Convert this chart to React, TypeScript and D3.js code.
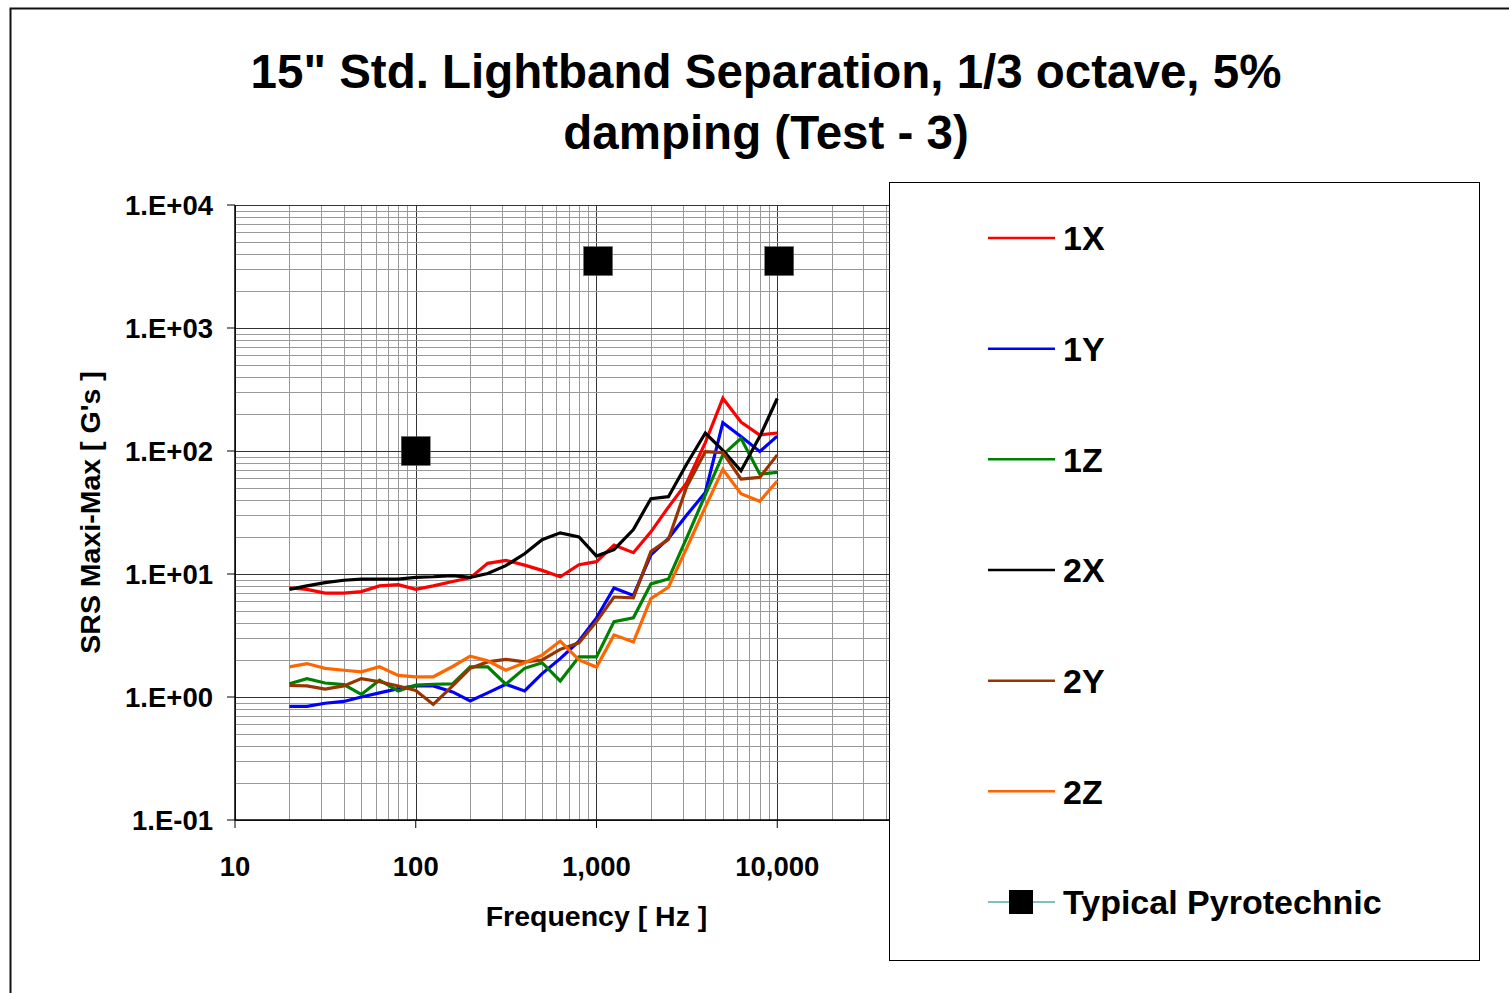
import { useEffect, useRef } from "react";
import * as d3 from "d3";

// 1/3 octave centre frequencies [Hz]
const freqs = [
  20, 25, 31.5, 40, 50, 63, 80, 100, 125, 160, 200, 250, 315, 400, 500, 630,
  800, 1000, 1250, 1600, 2000, 2500, 3150, 4000, 5000, 6300, 8000, 10000,
];

const s1X = [
  7.7, 7.5, 7.0, 7.0, 7.2, 8.0, 8.2, 7.5, 8.0, 8.7, 9.3, 12.2, 12.9, 11.8, 10.7,
  9.5, 11.9, 12.6, 17.2, 14.9, 22, 35, 55, 117, 268, 172, 135, 140,
];
const s1Y = [
  0.84, 0.84, 0.89, 0.92, 1.0, 1.08, 1.17, 1.23, 1.23, 1.1, 0.93, 1.08, 1.27,
  1.12, 1.55, 2.05, 2.85, 4.4, 7.7, 6.7, 14.3, 19.5, 30, 46, 170, 131, 99, 132,
];
const s1Z = [
  1.28, 1.41, 1.3, 1.26, 1.05, 1.37, 1.12, 1.25, 1.27, 1.28, 1.76, 1.76, 1.27,
  1.71, 1.9, 1.35, 2.12, 2.12, 4.1, 4.4, 8.3, 9.1, 19.6, 44, 93, 127, 65, 67,
];
const s2X = [
  7.5, 8.0, 8.5, 8.9, 9.1, 9.1, 9.1, 9.4, 9.5, 9.7, 9.4, 10.1, 11.7, 14.6, 19,
  21.6, 20, 14, 15.8, 23, 41, 42.5, 78, 140, 101, 69, 131, 267,
];
const s2Y = [
  1.24, 1.23, 1.16, 1.23, 1.41, 1.33, 1.23, 1.13, 0.87, 1.23, 1.71, 1.93, 2.02,
  1.93, 2.0, 2.44, 2.76, 4.1, 6.5, 6.4, 15.2, 19.1, 51, 99, 97, 59, 61, 93,
];
const s2Z = [
  1.76, 1.87, 1.71, 1.65, 1.6, 1.76, 1.5, 1.46, 1.46, 1.77, 2.15, 1.97, 1.65,
  1.9, 2.19, 2.85, 2.0, 1.75, 3.2, 2.8, 6.3, 7.8, 16.2, 35, 71, 45, 39, 57,
];

const seriesNames = ["1X", "1Y", "1Z", "2X", "2Y", "2Z"];
const seriesValues = [s1X, s1Y, s1Z, s2X, s2Y, s2Z];
const seriesColors = ["#ff0000", "#0000ff", "#008000", "#000000", "#993300", "#ff6600"];

const pyroName = "Typical Pyrotechnic";
const pyroFreqs = [100, 1020, 10250];
const pyroValues = [100, 3500, 3500];

const yTickLabels = ["1.E-01", "1.E+00", "1.E+01", "1.E+02", "1.E+03", "1.E+04"];
const xTickLabels = ["10", "100", "1,000", "10,000", "100,000"];

const FONT = "'Liberation Sans', Arial, Helvetica, sans-serif";

export default function App() {
  const ref = useRef<SVGSVGElement>(null);

  useEffect(() => {
    const svg = d3.select(ref.current);
    svg.selectAll("*").remove();

    const left = 235,
      right = 958,
      top = 205,
      bottom = 820;

    const x = d3.scaleLog().domain([10, 100000]).range([left, right]);
    const y = d3.scaleLog().domain([0.1, 10000]).range([bottom, top]);

    // outer chart border
    svg
      .append("rect")
      .attr("x", 10.5)
      .attr("y", 8.5)
      .attr("width", 1600)
      .attr("height", 1100)
      .attr("fill", "white")
      .attr("stroke", "#111")
      .attr("stroke-width", 2);

    // title
    const title = svg
      .append("text")
      .attr("text-anchor", "middle")
      .attr("font-family", FONT)
      .attr("font-weight", "bold")
      .attr("font-size", 47.5);
    title.append("tspan").attr("x", 766).attr("y", 88).text('15" Std. Lightband Separation, 1/3 octave, 5%');
    title.append("tspan").attr("x", 766).attr("y", 149).text("damping (Test - 3)");

    // grid
    const grid = svg.append("g");
    for (let d = 1; d < 5; d++) {
      for (let k = 1; k < 10; k++) {
        const v = k * Math.pow(10, d);
        grid
          .append("line")
          .attr("x1", Math.round(x(v)) + 0.5)
          .attr("x2", Math.round(x(v)) + 0.5)
          .attr("y1", top)
          .attr("y2", bottom)
          .attr("stroke", k === 1 ? "#333" : "#999")
          .attr("stroke-width", 1);
      }
    }
    for (let d = -1; d < 4; d++) {
      for (let k = 1; k < 10; k++) {
        const v = k * Math.pow(10, d);
        grid
          .append("line")
          .attr("x1", left)
          .attr("x2", right)
          .attr("y1", Math.round(y(v)) + 0.5)
          .attr("y2", Math.round(y(v)) + 0.5)
          .attr("stroke", k === 1 ? "#333" : "#999")
          .attr("stroke-width", 1);
      }
    }
    grid
      .append("line")
      .attr("x1", left)
      .attr("x2", right)
      .attr("y1", top + 0.5)
      .attr("y2", top + 0.5)
      .attr("stroke", "#333");

    // axes lines + ticks
    svg
      .append("line")
      .attr("x1", left)
      .attr("x2", right)
      .attr("y1", bottom)
      .attr("y2", bottom)
      .attr("stroke", "#000")
      .attr("stroke-width", 1.5);
    svg
      .append("line")
      .attr("x1", left)
      .attr("x2", left)
      .attr("y1", top)
      .attr("y2", bottom)
      .attr("stroke", "#000")
      .attr("stroke-width", 1.5);

    const yTicks = [0.1, 1, 10, 100, 1000, 10000];
    yTicks.forEach((t, i) => {
      svg
        .append("line")
        .attr("x1", left - 8)
        .attr("x2", left)
        .attr("y1", y(t))
        .attr("y2", y(t))
        .attr("stroke", "#000");
      svg
        .append("text")
        .attr("x", 213)
        .attr("y", y(t))
        .attr("dy", "0.36em")
        .attr("text-anchor", "end")
        .attr("font-family", FONT)
        .attr("font-weight", "bold")
        .attr("font-size", 27.5)
        .text(yTickLabels[i]);
    });

    const xTicks = [10, 100, 1000, 10000, 100000];
    xTicks.forEach((t, i) => {
      svg
        .append("line")
        .attr("x1", x(t))
        .attr("x2", x(t))
        .attr("y1", bottom)
        .attr("y2", bottom + 8)
        .attr("stroke", "#000");
      svg
        .append("text")
        .attr("x", x(t))
        .attr("y", 876)
        .attr("text-anchor", "middle")
        .attr("font-family", FONT)
        .attr("font-weight", "bold")
        .attr("font-size", 27.5)
        .text(xTickLabels[i]);
    });

    // axis titles
    svg
      .append("text")
      .attr("x", (left + right) / 2)
      .attr("y", 926)
      .attr("text-anchor", "middle")
      .attr("font-family", FONT)
      .attr("font-weight", "bold")
      .attr("font-size", 28.5)
      .text("Frequency [ Hz ]");
    svg
      .append("text")
      .attr("transform", `translate(100, ${(top + bottom) / 2}) rotate(-90)`)
      .attr("text-anchor", "middle")
      .attr("font-family", FONT)
      .attr("font-weight", "bold")
      .attr("font-size", 28.5)
      .text("SRS Maxi-Max [ G's ]");

    // series
    const line = d3
      .line<number>()
      .x((_, i) => x(freqs[i]))
      .y((d) => y(d));

    seriesValues.forEach((vals, i) => {
      svg
        .append("path")
        .datum(vals)
        .attr("d", line)
        .attr("fill", "none")
        .attr("stroke", seriesColors[i])
        .attr("stroke-width", 3.2)
        .attr("stroke-linejoin", "miter");
    });

    // typical pyrotechnic markers (no connecting line in the plot)
    const sq = 29;
    pyroFreqs.forEach((f, i) => {
      svg
        .append("rect")
        .attr("x", x(f) - sq / 2)
        .attr("y", y(pyroValues[i]) - sq / 2)
        .attr("width", sq)
        .attr("height", sq)
        .attr("fill", "#000")
        .attr("stroke", "#666")
        .attr("stroke-width", 0.5);
    });

    // legend (drawn over the right part of the plot area)
    const lg = svg.append("g");
    lg.append("rect")
      .attr("x", 889.5)
      .attr("y", 182.5)
      .attr("width", 590)
      .attr("height", 778)
      .attr("fill", "white")
      .attr("stroke", "#000")
      .attr("stroke-width", 1);

    const rowY = d3.scaleLinear().domain([0, 6]).range([238, 902]);
    const legendNames = [...seriesNames, pyroName];
    legendNames.forEach((name, i) => {
      const ry = rowY(i);
      const isPyro = i === 6;
      lg.append("line")
        .attr("x1", 988)
        .attr("x2", 1055)
        .attr("y1", ry)
        .attr("y2", ry)
        .attr("stroke", isPyro ? "#008080" : seriesColors[i])
        .attr("stroke-width", isPyro ? 1 : 2.5);
      if (isPyro) {
        lg.append("rect")
          .attr("x", 1021 - 12)
          .attr("y", ry - 12)
          .attr("width", 24)
          .attr("height", 24)
          .attr("fill", "#000");
      }
      lg.append("text")
        .attr("x", 1063)
        .attr("y", ry)
        .attr("dy", "0.36em")
        .attr("font-family", FONT)
        .attr("font-weight", "bold")
        .attr("font-size", 34)
        .text(name);
    });
  }, []);

  return (
    <svg
      ref={ref}
      width={1509}
      height={993}
      style={{ position: "absolute", left: 0, top: 0, display: "block", background: "white" }}
    />
  );
}
